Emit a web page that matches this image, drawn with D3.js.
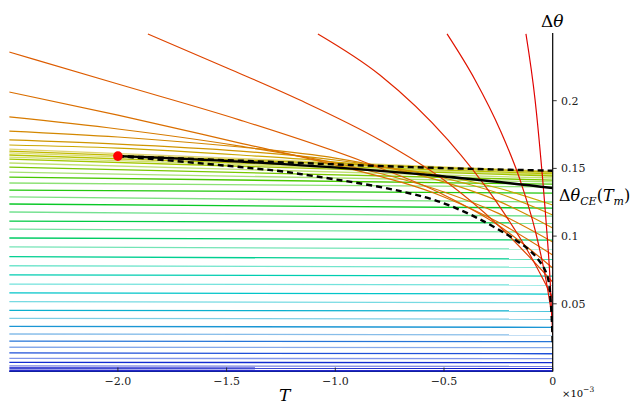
<!DOCTYPE html>
<html><head><meta charset="utf-8">
<script src="https://cdn.jsdelivr.net/npm/d3@7"></script>
<style>body{margin:0;background:#fff}svg{display:block}</style>
</head><body><svg id="c" width="631" height="404"></svg>
<script>
// ---- data (T in units of 1e-3) ----
const xTicks = [-2.0, -1.5, -1.0, -0.5, 0];
const xTickLabels = ["\u22122.0", "\u22121.5", "\u22121.0", "\u22120.5", "0"];
const yTicks = [0.05, 0.1, 0.15, 0.2];
const yTickLabels = ["0.05", "0.1", "0.15", "0.2"];

// nearly flat trajectories: value at T=-2.5 and at T=0
const flatLeft  = [0.0004,0.0011,0.0026,0.0041,0.0068,0.0097,0.0137,0.0179,0.0225,0.0277,0.0334,0.0393,0.0452,0.0516,0.058,0.0646,0.0713,0.0781,0.0848,0.092,0.0986,0.1052,0.1111,0.1178,0.1237,0.1289,0.134,0.1392,0.1436,0.1473,0.151,0.154,0.1569,0.1584,0.1599,0.1614,0.1628,0.1643];
const flatRight = [0.0004,0.001,0.0024,0.0038,0.0065,0.0095,0.0131,0.0176,0.022,0.027,0.0326,0.0386,0.0447,0.0508,0.0572,0.0639,0.0705,0.077,0.0831,0.0905,0.0971,0.103,0.1097,0.1148,0.1207,0.1252,0.1318,0.1363,0.1384,0.14,0.1414,0.1429,0.1444,0.1451,0.1459,0.1466,0.1473,0.1477];
const flatT = [-2.5, 0];

// bending trajectories (orange / red)
const curveLevels = [0.167,0.171,0.178,0.188,0.206,0.236,0.27,0.32,0.36,0.40];
const curveT = [
  [-2.5,-2,-1.438,-1.0,-0.5,-0.252,0],
  [-2.5,-2,-1.438,-1.0,-0.5,-0.252,0],
  [-2.5,-2,-1.438,-1.0,-0.5,-0.252,0],
  [-2.5,-2,-1.438,-1.0,-0.5,-0.252,0],
  [-2.5,-2,-1.438,-1.0,-0.5,-0.252,0],
  [-2.5,-2,-1.438,-0.855,-0.5,-0.252,0],
  [-1.862,-1.498,-1.163,-0.795,-0.5,-0.252,0],
  [-1.08,-0.795,-0.482,-0.265,-0.104,0],
  [-0.486,-0.357,-0.242,-0.150,-0.081,-0.031,0],
  [-0.123,-0.081,-0.054,-0.031,-0.012,0]
];
const curveV = [
  [0.1673,0.165,0.1599,0.1547,0.1444,0.1355,0.123],
  [0.171,0.168,0.1628,0.1562,0.1429,0.1318,0.1156],
  [0.1776,0.1732,0.1658,0.1576,0.14,0.126,0.106],
  [0.188,0.1791,0.1665,0.154,0.1326,0.117,0.0956],
  [0.2064,0.1894,0.1687,0.1525,0.1289,0.1104,0.086],
  [0.236,0.2123,0.1857,0.154,0.1304,0.1082,0.0764],
  [0.2493,0.2242,0.2005,0.171,0.1414,0.1082,0.0661],
  [0.2493,0.219,0.171,0.1267,0.086,0.0543],
  [0.2493,0.2153,0.1784,0.1414,0.1045,0.0676,0.038],
  [0.2493,0.2005,0.1562,0.1119,0.0676,0.0269]
];

// black reference curves
const envT = [-2.0,-1.438,-1.163,-0.518,-0.15,-0.072,-0.026,-0.008,0];
const envV = [0.1591,0.151,0.1459,0.1252,0.0949,0.0838,0.0712,0.0491,0.0196];
const maxT = [-2.0,-1.438,-0.518,0];
const maxV = [0.1591,0.1557,0.1503,0.1483];
const ceT = [-2.0,-1.438,-0.518,0];
const ceV = [0.1591,0.155,0.1444,0.1355];
const dotT = [-2.0], dotV = [0.1591];

// ---- drawing ----
const FONT = "'DejaVu Serif','Liberation Serif',serif";
const svg = d3.select("#c");
const x = d3.scaleLinear().domain([-2.5, 0]).range([9.2, 552.7]);
const y = d3.scaleLinear().domain([0, 0.25]).range([371.5, 33]);

const color = d3.scaleLinear()
  .domain([0,0.01,0.025,0.04,0.06,0.08,0.10,0.12,0.14,0.152,0.16,0.165,0.172,0.19,0.24,0.30,0.40])
  .range(["#0000c0","#1a40d8","#2a80d8","#10a8d0","#00c8c8","#00d0a0","#00cc60","#00c830","#30c800","#80c800","#b8c400","#c8b000","#d09000","#d87800","#dd5a00","#e03000","#e00000"]);

svg.append("defs").append("clipPath").attr("id","clip")
  .append("rect").attr("x",9.2).attr("y",33).attr("width",552.7-9.2).attr("height",371.5-33+1);
const g = svg.append("g").attr("clip-path","url(#clip)");

const line = d3.line().x(d=>x(d[0])).y(d=>y(d[1])).curve(d3.curveMonotoneX);

flatLeft.forEach((v,i)=>{
  g.append("path").datum([[flatT[0],v],[flatT[1],flatRight[i]]])
    .attr("d", d3.line().x(d=>x(d[0])).y(d=>y(d[1])))
    .attr("fill","none").attr("stroke",color(v)).attr("stroke-width",1.3)
    .attr("stroke-opacity", i%2 ? 0.55 : 1);
});
curveT.forEach((ts,i)=>{
  g.append("path").datum(ts.map((t,j)=>[t,curveV[i][j]]))
    .attr("d", line).attr("fill","none").attr("stroke",color(curveLevels[i])).attr("stroke-width",1.2);
});

// black curves
g.append("path").datum(ceT.map((t,j)=>[t,ceV[j]])).attr("d",line)
  .attr("fill","none").attr("stroke","#000").attr("stroke-width",2.4);
g.append("path").datum(maxT.map((t,j)=>[t,maxV[j]])).attr("d",line)
  .attr("fill","none").attr("stroke","#000").attr("stroke-width",2.4).attr("stroke-dasharray","6,4");
g.append("path").datum(envT.map((t,j)=>[t,envV[j]])).attr("d",d3.line().x(d=>x(d[0])).y(d=>y(d[1])).curve(d3.curveCatmullRom))
  .attr("fill","none").attr("stroke","#000").attr("stroke-width",2.4).attr("stroke-dasharray","6,4");

svg.append("circle").attr("cx",x(dotT[0])).attr("cy",y(dotV[0])).attr("r",4.8).attr("fill","#ff0000");

// axes
const ax = svg.append("g");
ax.append("line").attr("x1",x(-2.5)).attr("x2",x(0)).attr("y1",y(0)).attr("y2",y(0)).attr("stroke","#1020a0").attr("stroke-width",1.2);
ax.append("line").attr("x1",x(0)).attr("x2",x(0)).attr("y1",y(0)).attr("y2",y(0.25)).attr("stroke","#000").attr("stroke-width",1.2);
xTicks.forEach((t,i)=>{
  ax.append("line").attr("x1",x(t)).attr("x2",x(t)).attr("y1",y(0)).attr("y2",y(0)-4).attr("stroke","#222").attr("stroke-width",0.9);
  ax.append("text").attr("x",x(t)).attr("y",385).attr("text-anchor","middle").attr("font-family",FONT).attr("font-size",11).attr("fill","#222").text(xTickLabels[i]);
});
yTicks.forEach((t,i)=>{
  ax.append("line").attr("x1",x(0)).attr("x2",x(0)+4).attr("y1",y(t)).attr("y2",y(t)).attr("stroke","#222").attr("stroke-width",0.9);
  ax.append("text").attr("x",561).attr("y",y(t)+4).attr("font-family",FONT).attr("font-size",11).attr("fill","#222").text(yTickLabels[i]);
});

// labels
const t1 = svg.append("text").attr("x",541).attr("y",27).attr("font-family",FONT).attr("font-size",17);
t1.append("tspan").text("\u0394");
t1.append("tspan").attr("font-style","italic").text("\u03b8");

const t2 = svg.append("text").attr("x",559).attr("y",201).attr("font-family",FONT).attr("font-size",16);
t2.append("tspan").text("\u0394");
t2.append("tspan").attr("font-style","italic").text("\u03b8");
t2.append("tspan").attr("font-style","italic").attr("font-size",11).attr("dy",4).text("CE");
t2.append("tspan").attr("dy",-4).text("(");
t2.append("tspan").attr("font-style","italic").text("T");
t2.append("tspan").attr("font-style","italic").attr("font-size",11).attr("dy",4).text("m");
t2.append("tspan").attr("dy",-4).text(")");

svg.append("text").attr("x",279).attr("y",401).attr("font-family",FONT).attr("font-size",17).attr("font-style","italic").text("T");

const t3 = svg.append("text").attr("x",562).attr("y",397).attr("font-family",FONT).attr("font-size",10);
t3.append("tspan").text("\u00d710");
t3.append("tspan").attr("font-size",7.5).attr("dy",-5).text("\u22123");
</script></body></html>
